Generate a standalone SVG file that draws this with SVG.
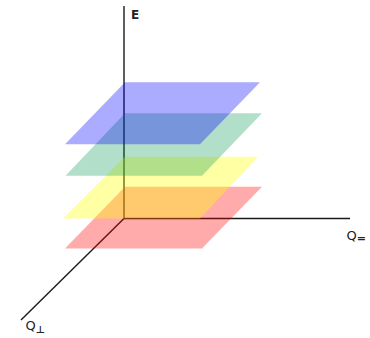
<svg xmlns="http://www.w3.org/2000/svg" width="370" height="338" viewBox="0 0 370 338">
<style>
.ax{stroke:#1a1a1a;stroke-width:1.4;fill:none}
.lbl{font-family:"DejaVu Sans","Liberation Sans",sans-serif;fill:#222}
</style>
<rect width="370" height="338" fill="#fff"/>
<g id="connectors">
<line class="ax" x1="124" y1="6" x2="124" y2="218.5"/>
<line class="ax" x1="124" y1="218.5" x2="350" y2="218.5"/>
<line class="ax" x1="124" y1="218.5" x2="21" y2="320"/>
</g>
<g id="plane-red"><polygon points="125,186.7 262,186.7 202,248.5 65,248.5" fill="#ff0000" fill-opacity="0.33"/></g>
<g id="plane-yellow"><polygon points="125,156.7 258,156.7 200,218.5 63,218.5" fill="#ffff00" fill-opacity="0.36"/></g>
<g id="plane-green"><polygon points="125,113.3 262,113.3 202,175.7 65.5,175.7" fill="#009650" fill-opacity="0.3"/></g>
<g id="plane-blue"><polygon points="125,82.3 260,82.3 200,144.3 65,144.3" fill="#0000ff" fill-opacity="0.33"/></g>
<g id="label-E"><text class="lbl" x="131" y="18.5" font-size="12" font-weight="bold">E</text></g>
<g id="label-Qpar"><text class="lbl" x="346.5" y="240" font-size="13">Q<tspan font-size="11" font-weight="bold" dy="2">=</tspan></text></g>
<g id="label-Qperp"><text class="lbl" x="25.5" y="330" font-size="13">Q<tspan font-size="10" font-weight="bold" dy="3">⊥</tspan></text></g>
</svg>
